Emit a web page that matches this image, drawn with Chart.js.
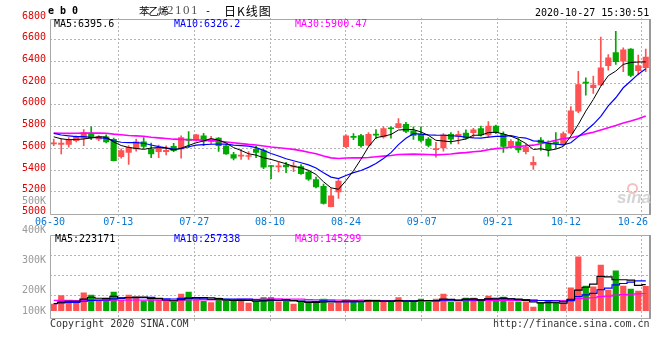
<!DOCTYPE html>
<html>
<head>
<meta charset="utf-8">
<script src="https://cdn.jsdelivr.net/npm/chart.js@4"></script>
<style>
    html, body { margin: 0; padding: 0; background: #fff; }
    #wrap { position: relative; width: 660px; height: 360px; overflow: hidden; font-family: 'DejaVu Sans Mono', monospace; font-size: 10px; }
    #wrap canvas { position: absolute; left: 0; top: 0; }
    .t { position: absolute; white-space: pre; line-height: 12px; }
    .cjk { font-family: 'Noto Sans CJK SC', sans-serif; }
</style>
</head>
<body>
<div id="wrap">
    <canvas id="kline" width="660" height="360"></canvas>
    <canvas id="vol" width="660" height="360"></canvas>

    <div class="t" style="left:48px;top:5px;font-weight:bold;">e b 0</div>
    <div class="t cjk" style="left:139px;top:5px;font-size:10.5px;letter-spacing:-1px;">苯乙烯</div>
    <div class="t" style="left:167px;top:4px;font-family:'Liberation Serif',serif;font-size:13px;color:#555;letter-spacing:1.5px;">2101</div>
    <div class="t" style="left:205px;top:5px;">-</div>
    <div class="t cjk" style="left:224px;top:5px;font-size:12px;letter-spacing:1px;">日K线图</div>
    <div class="t" style="left:535px;top:7px;">2020-10-27 15:30:51</div>

    <div class="t" style="left:54px;top:18px;color:#000;">MA5:6395.6</div>
    <div class="t" style="left:174px;top:18px;color:#0000ff;">MA10:6326.2</div>
    <div class="t" style="left:295px;top:18px;color:#ff00ff;">MA30:5900.47</div>

    <div class="t" style="left:55px;top:233px;color:#000;">MA5:223171</div>
    <div class="t" style="left:174px;top:233px;color:#0000ff;">MA10:257338</div>
    <div class="t" style="left:295px;top:233px;color:#ff00ff;">MA30:145299</div>

    <div class="t" style="right:614px;top:195px;color:#999;">500K</div>
    <div class="t" style="right:614px;top:224px;color:#999;">400K</div>
    <div class="t" style="right:614px;top:254px;color:#999;">300K</div>
    <div class="t" style="right:614px;top:284px;color:#999;">200K</div>
    <div class="t" style="right:614px;top:305px;color:#999;">100K</div>

    <div class="t" style="left:50px;top:318px;color:#333;">Copyright 2020 SINA.COM</div>
    <div class="t" style="left:493px;top:318px;color:#333;">http://finance.sina.com.cn</div>

    <div style="position:absolute;left:627px;top:183px;width:11px;height:11px;border-radius:50%;border:2px solid rgba(240,140,140,0.55);box-sizing:border-box;"></div>
    <div class="t" style="left:617px;top:189px;font:italic bold 17px 'Liberation Sans',sans-serif;line-height:17px;color:#d4d4d4;">sina</div>
</div>

<script>
const MONO = 'DejaVu Sans Mono';
const GRID = '#b4b4b4';
const UP = '#ff5353';
const DOWN = '#00a800';

const dates = ['06-30','07-01','07-02','07-03','07-06','07-07','07-08','07-09','07-10','07-13',
    '07-14','07-15','07-16','07-17','07-20','07-21','07-22','07-23','07-24','07-27',
    '07-28','07-29','07-30','07-31','08-03','08-04','08-05','08-06','08-07','08-10',
    '08-11','08-12','08-13','08-14','08-17','08-18','08-19','08-20','08-21','08-24',
    '08-25','08-26','08-27','08-28','08-31','09-01','09-02','09-03','09-04','09-07',
    '09-08','09-09','09-10','09-11','09-14','09-15','09-16','09-17','09-18','09-21',
    '09-22','09-23','09-24','09-25','09-28','09-29','09-30','10-09','10-12','10-13',
    '10-14','10-15','10-16','10-19','10-20','10-21','10-22','10-23','10-26','10-27'];

const tickDates = ['06-30','07-13','07-27','08-10','08-24','09-07','09-21','10-12','10-26'];

const openP = [5640,5636,5636,5670,5694,5740,5685,5706,5682,5524,
    5563,5594,5660,5594,5570,5570,5618,5594,5685,5676,
    5715,5663,5694,5624,5542,5528,5525,5591,5579,5440,
    5430,5445,5428,5433,5381,5312,5251,5062,5199,5615,
    5710,5718,5630,5728,5706,5785,5791,5822,5761,5730,
    5685,5588,5603,5730,5709,5740,5745,5782,5724,5806,
    5730,5618,5660,5570,5448,5676,5649,5660,5639,5740,
    5943,6210,6158,6183,6360,6482,6403,6513,6315,6342];

const highP = [5685,5690,5700,5715,5773,5797,5718,5725,5694,5595,
    5625,5685,5700,5648,5630,5624,5645,5715,5755,5730,
    5737,5710,5700,5640,5564,5590,5570,5620,5594,5442,
    5470,5470,5470,5450,5395,5336,5270,5230,5312,5725,
    5735,5730,5745,5773,5797,5797,5873,5840,5797,5797,
    5700,5655,5736,5745,5760,5770,5785,5806,5846,5815,
    5752,5680,5690,5640,5524,5700,5670,5746,5752,5985,
    6310,6250,6265,6625,6464,6678,6525,6519,6458,6513];

const lowP = [5625,5548,5610,5660,5624,5680,5670,5650,5485,5510,
    5451,5575,5600,5515,5515,5540,5570,5509,5605,5665,
    5625,5640,5572,5545,5494,5497,5497,5515,5412,5321,
    5382,5375,5385,5360,5305,5236,5087,5060,5138,5605,
    5680,5610,5620,5690,5694,5694,5785,5745,5682,5660,
    5612,5518,5573,5640,5640,5685,5700,5712,5700,5735,
    5563,5612,5563,5548,5406,5580,5527,5600,5624,5730,
    5928,6090,6106,6177,6320,6372,6305,6260,6275,6305];

const closeP = [5650,5648,5679,5709,5745,5697,5706,5660,5487,5579,
    5609,5660,5618,5548,5600,5582,5578,5700,5672,5724,
    5667,5685,5624,5549,5509,5535,5532,5562,5427,5433,
    5436,5430,5440,5366,5316,5245,5093,5162,5299,5715,
    5700,5624,5730,5722,5782,5780,5828,5755,5718,5672,
    5627,5596,5724,5685,5730,5694,5770,5724,5806,5746,
    5618,5664,5585,5609,5472,5649,5588,5645,5736,5945,
    6187,6200,6182,6342,6433,6398,6508,6272,6362,6440];

// closes of the 29 sessions before 06-30, only used to seed the moving averages
const priorClose = [5680,5700,5690,5710,5695,5700,5690,5740,5760,5780,
    5770,5750,5790,5780,5760,5770,5750,5770,5760,5775,
    5790,5760,5780,5750,5760,5740,5720,5700,5720];

const volume = [57000,129000,89000,72000,154000,135000,86000,86000,160000,89000,
    135000,117000,83000,92000,89000,80000,75000,143000,160000,103000,
    80000,69000,109000,100000,80000,83000,66000,83000,112000,112000,
    77000,80000,57000,72000,69000,77000,100000,63000,80000,92000,
    77000,92000,92000,83000,72000,72000,112000,72000,83000,100000,
    72000,100000,143000,72000,72000,109000,109000,92000,126000,100000,
    117000,77000,77000,77000,32000,72000,89000,72000,63000,197000,
    463000,212000,206000,392000,177000,343000,212000,186000,169000,209000];

const priorVolume = [110000,95000,120000,105000,98000,130000,88000,102000,115000,92000,
    108000,125000,97000,90000,112000,100000,95000,85000,108000,95000,
    60000,52000,65000,55000,58000,66000,60000,70000,57000];

function movingAvg(series, prior, n) {
    const all = prior.concat(series);
    return series.map((_, i) => {
        const end = prior.length + i;
        let sum = 0;
        for (let k = end - n + 1; k <= end; k++) sum += all[k];
        return sum / n;
    });
}

const tickIdx = tickDates.map(d => dates.indexOf(d));
const lastTick = tickIdx[tickIdx.length - 1];
const colors = closeP.map((c, i) => c >= openP[i] ? UP : DOWN);
const wicks = lowP.map((l, i) => [l, highP[i]]);
const bodies = openP.map((o, i) => [o, closeP[i]]);

// plain frame around a panel; the top edge sits a little below the chart area on the price panel
const framePlugin = {
    id: 'frame',
    afterDraw(chart, args, opts) {
        const { ctx, chartArea: { left, right, top, bottom } } = chart;
        const t = Math.round(top + (opts.topGap || 0)) + 0.5;
        const l = Math.round(left) + 0.5;
        const b = Math.round(bottom) + 0.5;
        ctx.save();
        ctx.strokeStyle = '#a8a8a8';
        ctx.lineWidth = 1;
        ctx.beginPath();
        ctx.moveTo(l, t);
        ctx.lineTo(right, t);
        ctx.moveTo(l, t);
        ctx.lineTo(l, b);
        ctx.lineTo(right, b);
        ctx.stroke();
        ctx.strokeStyle = '#999';
        ctx.lineWidth = 2;
        ctx.beginPath();
        ctx.moveTo(Math.round(right), t - 0.5);
        ctx.lineTo(Math.round(right), b + 0.5);
        ctx.stroke();
        ctx.restore();
    }
};

// date grid: one step per session spread over the whole width (Sina places these a bit wider than the bars)
function gridAxis(showLabels) {
    return {
        type: 'linear',
        position: 'bottom',
        offset: false,
        min: 0,
        max: dates.length - 1,
        afterBuildTicks: axis => { axis.ticks = tickIdx.map(v => ({ value: v })); },
        afterFit: axis => {
            axis.height = showLabels ? 20 : 0;
            // labels may hang over the ends; keep the plot width fixed
            axis.paddingLeft = 0;
            axis.paddingRight = 0;
        },
        grid: {
            offset: false,
            color: c => (c.tick && c.tick.value === 0) ? 'rgba(0,0,0,0)' : GRID,
            drawTicks: true,
            tickLength: 3
        },
        border: { display: false, dash: [2, 2] },
        ticks: {
            display: showLabels,
            autoSkip: false,
            maxRotation: 0,
            padding: 0,
            color: '#0a78d2',
            font: { family: MONO, size: 10 },
            // the last date is pulled back inside the frame, as on the original
            callback: v => v === lastTick ? dates[v] + '   ' : dates[v]
        }
    };
}

const klineChart = new Chart(document.getElementById('kline').getContext('2d'), {
    type: 'bar',
    data: {
        labels: dates,
        datasets: [
            { type: 'line', data: movingAvg(closeP, priorClose, 5), borderColor: '#000', borderWidth: 1, pointRadius: 0, tension: 0, xAxisID: 'x', yAxisID: 'y', order: 0 },
            { type: 'line', data: movingAvg(closeP, priorClose, 10), borderColor: '#0000ff', borderWidth: 1.2, pointRadius: 0, tension: 0, xAxisID: 'x', yAxisID: 'y', order: 0 },
            { type: 'line', data: movingAvg(closeP, priorClose, 30), borderColor: '#ff00ff', borderWidth: 1.6, pointRadius: 0, tension: 0, xAxisID: 'x', yAxisID: 'y', order: 0 },
            { type: 'bar', data: wicks, backgroundColor: colors, barThickness: 1, grouped: false, xAxisID: 'x', yAxisID: 'y', order: 2 },
            { type: 'bar', data: bodies, backgroundColor: colors, barThickness: 5.5, minBarLength: 1, grouped: false, xAxisID: 'x', yAxisID: 'y', order: 1 }
        ]
    },
    options: {
        responsive: false,
        animation: false,
        events: [],
        layout: { padding: { top: 18, bottom: 126.5, left: 0, right: 10.5 } },
        scales: {
            x: { type: 'category', offset: true, display: false, grid: { display: false } },
            xg: gridAxis(true),
            y: {
                position: 'left',
                min: 5000,
                max: 6800,
                afterFit: axis => { axis.width = 50; },
                ticks: {
                    stepSize: 200,
                    color: '#e00000',
                    padding: 4,
                    labelOffset: -2,
                    font: { family: MONO, size: 10 },
                    callback: v => String(v)
                },
                grid: {
                    color: c => (c.tick && (c.tick.value === 5000 || c.tick.value === 6800)) ? 'rgba(0,0,0,0)' : GRID,
                    drawTicks: false
                },
                border: { display: false, dash: [2, 2] }
            }
        },
        plugins: {
            legend: { display: false },
            tooltip: { enabled: false },
            frame: { topGap: 1 }
        }
    },
    plugins: [framePlugin]
});

const volChart = new Chart(document.getElementById('vol').getContext('2d'), {
    type: 'bar',
    data: {
        labels: dates,
        datasets: [
            { type: 'line', data: movingAvg(volume, priorVolume, 5), borderColor: '#000', borderWidth: 1.2, pointRadius: 0, stepped: 'middle', xAxisID: 'x', yAxisID: 'y', order: 0 },
            { type: 'line', data: movingAvg(volume, priorVolume, 10), borderColor: '#0000ff', borderWidth: 1.2, pointRadius: 0, stepped: 'middle', xAxisID: 'x', yAxisID: 'y', order: 0 },
            { type: 'line', data: movingAvg(volume, priorVolume, 30), borderColor: '#ff00ff', borderWidth: 1.2, pointRadius: 0, stepped: 'middle', xAxisID: 'x', yAxisID: 'y', order: 0 },
            { type: 'bar', data: volume, backgroundColor: colors, barThickness: 5.5, xAxisID: 'x', yAxisID: 'y', order: 1 }
        ]
    },
    options: {
        responsive: false,
        animation: false,
        events: [],
        layout: { padding: { top: 235, bottom: 42, left: 0, right: 10.5 } },
        scales: {
            x: { type: 'category', offset: true, display: false, grid: { display: false } },
            xg: gridAxis(false),
            y: {
                position: 'left',
                min: -62500,
                max: 650000,
                afterFit: axis => { axis.width = 50; },
                ticks: { display: false },
                grid: { display: false },
                border: { display: false }
            },
            // evenly spaced guide lines of the volume panel
            yg: {
                type: 'linear',
                position: 'left',
                reverse: true,
                min: 0,
                max: 4.15,
                afterBuildTicks: axis => { axis.ticks = [1, 2, 3].map(v => ({ value: v })); },
                afterFit: axis => { axis.width = 0; },
                ticks: { display: false },
                grid: { color: GRID, drawTicks: false },
                border: { display: false, dash: [2, 2] }
            }
        },
        plugins: {
            legend: { display: false },
            tooltip: { enabled: false },
            frame: { topGap: 0 }
        }
    },
    plugins: [framePlugin]
});
</script>
</body>
</html>
